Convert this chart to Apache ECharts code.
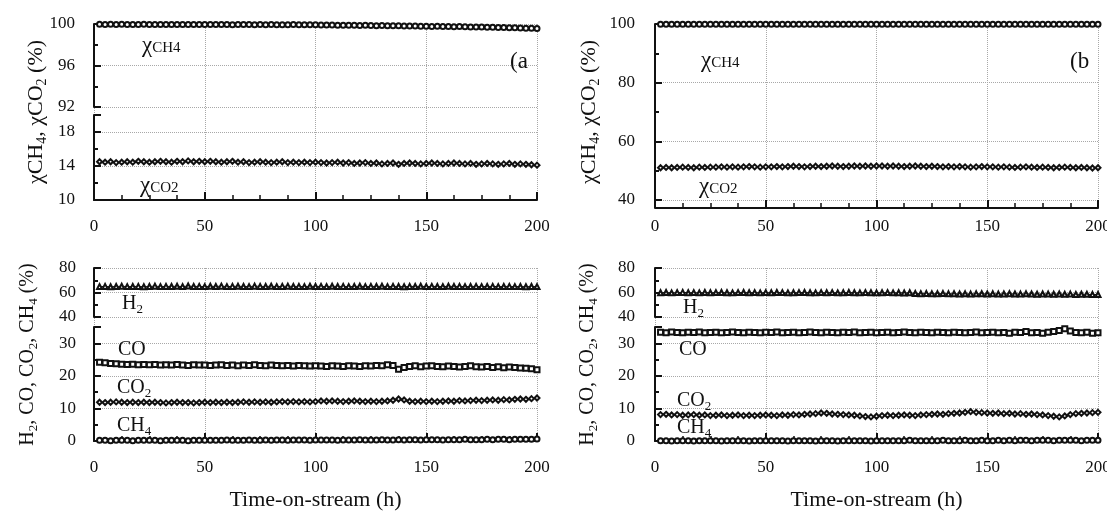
<!DOCTYPE html>
<html lang="en">
<head>
<meta charset="UTF-8">
<title>Time-on-stream</title>
<script src="https://cdn.jsdelivr.net/npm/echarts@6/dist/echarts.min.js"></script>
<style>
  html, body { margin: 0; padding: 0; background: #fff; }
  #chart { width: 1107px; height: 511px; }
</style>
</head>
<body>
<div id="chart"></div>
<script>
// time on stream (h)
const hours = [
  2.5, 5, 7.5, 10, 12.5, 15, 17.5, 20, 22.5, 25,
  27.5, 30, 32.5, 35, 37.5, 40, 42.5, 45, 47.5, 50,
  52.5, 55, 57.5, 60, 62.5, 65, 67.5, 70, 72.5, 75,
  77.5, 80, 82.5, 85, 87.5, 90, 92.5, 95, 97.5, 100,
  102.5, 105, 107.5, 110, 112.5, 115, 117.5, 120, 122.5, 125,
  127.5, 130, 132.5, 135, 137.5, 140, 142.5, 145, 147.5, 150,
  152.5, 155, 157.5, 160, 162.5, 165, 167.5, 170, 172.5, 175,
  177.5, 180, 182.5, 185, 187.5, 190, 192.5, 195, 197.5, 200
];
const xTicks = [0, 50, 100, 150, 200];

// (a) conversions
const aConvCH4 = [
  99.97,99.96,99.97,99.96,99.97,99.96,99.95,99.96,99.97,99.96,
  99.95,99.96,99.95,99.96,99.95,99.94,99.95,99.96,99.95,99.94,
  99.95,99.94,99.95,99.94,99.93,99.94,99.95,99.94,99.93,99.94,
  99.93,99.94,99.93,99.92,99.93,99.94,99.93,99.92,99.93,99.92,
  99.91,99.9,99.9,99.89,99.88,99.89,99.87,99.86,99.87,99.85,
  99.84,99.85,99.83,99.82,99.83,99.81,99.8,99.81,99.79,99.78,
  99.77,99.78,99.76,99.75,99.74,99.75,99.73,99.72,99.7,99.71,
  99.69,99.68,99.66,99.67,99.65,99.63,99.62,99.6,99.58,99.56
];
const aConvCO2 = [
  14.5,14.45,14.5,14.4,14.45,14.5,14.45,14.55,14.5,14.45,
  14.5,14.55,14.5,14.45,14.55,14.5,14.6,14.5,14.55,14.5,
  14.55,14.5,14.45,14.5,14.55,14.45,14.5,14.4,14.45,14.5,
  14.45,14.4,14.45,14.5,14.4,14.45,14.4,14.45,14.4,14.45,
  14.4,14.35,14.4,14.45,14.35,14.4,14.3,14.35,14.4,14.3,
  14.35,14.25,14.3,14.35,14.2,14.3,14.35,14.3,14.25,14.3,
  14.35,14.3,14.25,14.3,14.35,14.3,14.25,14.3,14.2,14.25,
  14.3,14.25,14.2,14.25,14.3,14.2,14.25,14.2,14.15,14.1
];
// (b) conversions
const bConvCH4 = [
  99.9,99.92,99.91,99.9,99.92,99.91,99.9,99.92,99.91,99.9,
  99.91,99.92,99.9,99.91,99.92,99.9,99.91,99.92,99.91,99.9,
  99.92,99.91,99.9,99.92,99.91,99.9,99.91,99.92,99.9,99.91,
  99.92,99.9,99.91,99.92,99.91,99.9,99.92,99.91,99.9,99.91,
  99.9,99.91,99.92,99.9,99.91,99.9,99.92,99.91,99.9,99.91,
  99.92,99.9,99.91,99.9,99.92,99.91,99.9,99.91,99.92,99.9,
  99.91,99.9,99.92,99.91,99.9,99.91,99.92,99.9,99.91,99.9,
  99.92,99.91,99.9,99.91,99.92,99.9,99.91,99.9,99.91,99.92
];
const bConvCO2 = [
  51.0,51.1,51.0,51.1,51.2,51.1,51.0,51.2,51.1,51.2,
  51.2,51.3,51.2,51.3,51.2,51.3,51.4,51.3,51.2,51.3,
  51.3,51.4,51.3,51.4,51.5,51.4,51.3,51.4,51.5,51.4,
  51.5,51.6,51.5,51.4,51.5,51.6,51.5,51.6,51.5,51.6,
  51.6,51.5,51.6,51.5,51.4,51.5,51.6,51.5,51.4,51.5,
  51.4,51.3,51.4,51.3,51.4,51.3,51.2,51.3,51.4,51.3,
  51.3,51.2,51.3,51.2,51.1,51.2,51.3,51.2,51.1,51.2,
  51.1,51.0,51.1,51.2,51.1,51.0,51.1,51.0,50.9,51.0
];

// (a) product composition
const aH2 = [
  64.8,65.0,64.7,64.9,65.1,64.8,64.9,65.0,64.7,64.9,
  65.2,64.8,65.0,64.9,65.1,64.8,65.3,64.9,65.0,64.8,
  65.1,64.9,65.2,64.8,65.0,65.1,64.9,64.8,65.2,65.0,
  64.9,65.1,64.8,65.0,65.2,64.9,65.0,64.8,65.1,64.9,
  65.0,64.8,65.1,64.9,65.0,64.8,64.9,65.1,64.8,65.0,
  64.9,65.1,64.8,65.0,64.9,64.7,65.0,64.9,65.1,64.8,
  65.0,64.9,64.8,65.1,64.9,65.0,64.8,64.9,65.0,64.8,
  64.9,65.0,64.8,64.9,65.0,64.8,64.9,64.7,64.9,64.8
];
const aCO = [
  24.2,24.0,23.8,23.7,23.6,23.5,23.6,23.4,23.5,23.4,
  23.5,23.3,23.4,23.3,23.5,23.3,23.2,23.4,23.3,23.3,
  23.2,23.3,23.4,23.2,23.3,23.1,23.3,23.2,23.4,23.2,
  23.1,23.3,23.2,23.1,23.2,23.0,23.2,23.1,23.0,23.1,
  23.0,22.9,23.1,23.0,22.9,23.1,23.0,22.9,23.1,23.0,
  23.2,23.1,23.4,23.2,22.0,22.6,22.9,23.1,22.8,23.0,
  23.1,22.9,22.8,23.0,22.9,22.7,22.9,23.1,22.8,22.7,
  22.9,22.6,22.8,22.5,22.7,22.6,22.4,22.3,22.2,21.9
];
const aCO2 = [
  11.9,11.8,11.9,12.0,11.9,11.8,11.9,11.8,11.9,11.8,
  11.9,11.8,11.7,11.8,11.9,11.8,11.8,11.7,11.8,11.9,
  11.8,11.9,11.8,11.9,11.8,11.9,12.0,11.9,12.0,11.9,
  12.0,11.9,12.0,12.1,12.0,12.1,12.0,12.1,12.0,12.1,
  12.3,12.2,12.3,12.2,12.1,12.2,12.3,12.2,12.1,12.2,
  12.1,12.2,12.3,12.5,12.9,12.6,12.2,12.1,12.2,12.1,
  12.2,12.1,12.2,12.3,12.2,12.4,12.3,12.4,12.5,12.4,
  12.5,12.6,12.5,12.7,12.6,12.8,12.9,12.8,13.0,13.2
];
const aCH4 = [
  0.2,0.2,0.1,0.2,0.2,0.2,0.1,0.2,0.2,0.2,
  0.2,0.1,0.2,0.2,0.2,0.2,0.1,0.2,0.2,0.2,
  0.2,0.2,0.2,0.3,0.2,0.2,0.2,0.3,0.2,0.2,
  0.3,0.2,0.3,0.3,0.2,0.3,0.3,0.3,0.2,0.3,
  0.3,0.3,0.3,0.2,0.3,0.3,0.3,0.4,0.3,0.3,
  0.3,0.4,0.3,0.3,0.4,0.3,0.4,0.4,0.3,0.4,
  0.4,0.4,0.3,0.4,0.4,0.4,0.5,0.4,0.4,0.4,
  0.5,0.4,0.5,0.5,0.4,0.5,0.5,0.5,0.5,0.6
];
// (b) product composition
const bH2 = [
  59.8,60.0,59.7,59.9,60.1,59.8,59.9,59.7,60.0,59.8,
  59.9,60.0,59.8,59.7,59.9,60.0,59.8,59.9,59.7,59.9,
  59.8,60.0,59.9,59.7,59.8,59.9,60.0,59.8,59.7,59.9,
  59.8,59.9,59.7,59.8,60.0,59.8,59.7,59.9,59.8,59.7,
  59.8,59.9,59.7,59.8,59.6,59.8,59.2,59.0,59.1,58.9,
  59.0,59.1,58.9,59.0,58.8,58.9,58.7,58.9,59.0,58.8,
  58.9,58.7,58.8,59.0,58.8,58.7,58.9,58.8,58.6,58.8,
  58.7,58.6,58.8,58.5,58.7,58.4,58.6,58.5,58.3,58.4
];
const bCO = [
  33.4,33.2,33.5,33.3,33.2,33.4,33.3,33.5,33.2,33.3,
  33.4,33.2,33.3,33.5,33.3,33.2,33.4,33.3,33.2,33.4,
  33.3,33.5,33.2,33.3,33.4,33.2,33.3,33.5,33.3,33.2,
  33.4,33.3,33.2,33.4,33.3,33.5,33.2,33.3,33.4,33.2,
  33.3,33.4,33.2,33.3,33.5,33.3,33.2,33.4,33.3,33.2,
  33.4,33.3,33.2,33.4,33.3,33.2,33.3,33.5,33.2,33.3,
  33.4,33.2,33.3,33.1,33.4,33.3,33.6,33.2,33.3,33.1,
  33.4,33.6,33.9,34.5,33.8,33.3,33.2,33.4,33.1,33.2
];
const bCO2 = [
  8.1,8.2,8.0,8.1,7.9,8.0,8.1,7.9,8.0,7.8,
  7.9,8.0,7.8,7.9,8.0,7.8,7.9,7.8,7.9,8.0,
  7.9,7.8,8.0,7.9,8.1,8.0,8.2,8.3,8.4,8.6,
  8.5,8.3,8.2,8.1,8.0,7.9,7.7,7.5,7.4,7.6,
  7.8,7.9,7.8,7.9,8.0,7.9,7.8,8.0,8.1,8.2,
  8.3,8.2,8.4,8.5,8.6,8.8,9.0,8.8,8.7,8.6,
  8.5,8.6,8.4,8.5,8.3,8.4,8.2,8.3,8.1,8.0,
  7.8,7.6,7.4,7.7,8.1,8.4,8.5,8.6,8.7,8.8
];
const bCH4 = [
  0.1,0.1,0.0,0.1,0.1,0.1,0.0,0.1,0.1,0.1,
  0.1,0.0,0.1,0.1,0.1,0.1,0.0,0.1,0.1,0.1,
  0.1,0.1,0.1,0.0,0.1,0.1,0.1,0.1,0.0,0.1,
  0.1,0.1,0.0,0.1,0.1,0.1,0.1,0.1,0.0,0.1,
  0.1,0.1,0.1,0.1,0.1,0.2,0.1,0.1,0.1,0.1,
  0.1,0.2,0.1,0.1,0.1,0.2,0.1,0.1,0.2,0.1,
  0.1,0.2,0.1,0.2,0.1,0.2,0.2,0.1,0.2,0.2,
  0.2,0.1,0.2,0.2,0.2,0.2,0.1,0.2,0.2,0.2
];

const FONT = 'Liberation Serif';
const INK = '#111';
const GRIDLINE = { type: 'dotted', color: '#a8a8a8', width: 1 };

let chart = echarts.init(document.getElementById('chart'), null, { renderer: 'canvas' });

// grid boxes: [left, top, width, height]
const boxes = [
  [94, 24, 443, 176],   // 0 (a) top frame
  [94, 24, 443, 83],    // 1 (a) top upper part 92-100
  [94, 115, 443, 85],   // 2 (a) top lower part 10-20
  [655, 24, 443, 176],  // 3 (b) top
  [94, 268, 443, 173],  // 4 (a) bottom frame
  [94, 268, 443, 49],   // 5 (a) bottom upper part 40-80
  [94, 327, 443, 114],  // 6 (a) bottom lower part 0-35
  [655, 268, 443, 173], // 7 (b) bottom frame
  [655, 268, 443, 49],  // 8 (b) bottom upper
  [655, 327, 443, 114]  // 9 (b) bottom lower
];
const grids = boxes.map(b => ({ left: b[0], top: b[1], width: b[2], height: b[3], outerBoundsMode: 'none' }));

const xTitle = 'Time-on-stream (h)';
function frameX(gi, offset, margin, withName) {
  return {
    type: 'value', gridIndex: gi, min: xTicks[0], max: xTicks[xTicks.length - 1], interval: 50,
    offset: offset,
    axisLine: { show: true, lineStyle: { color: INK, width: 2 } },
    axisTick: { show: true, inside: true, length: 8, lineStyle: { color: INK, width: 2 } },
    minorTick: { show: true, splitNumber: 4, length: 5, lineStyle: { color: INK, width: 1.5 } },
    axisLabel: { fontFamily: FONT, fontSize: 17, color: INK, margin: margin },
    splitLine: { show: true, lineStyle: GRIDLINE },
    name: withName ? xTitle : '', nameLocation: 'middle', nameGap: 41,
    nameTextStyle: { fontFamily: FONT, fontSize: 22, color: INK }
  };
}
function hiddenX(gi) {
  return { type: 'value', gridIndex: gi, min: 0, max: 200, show: false };
}
function dataY(gi, min, max, interval, offset, opts) {
  opts = opts || {};
  return {
    type: 'value', gridIndex: gi, min: min, max: max, interval: interval, offset: offset,
    axisLine: { show: true, lineStyle: { color: INK, width: 2 } },
    axisTick: { show: true, inside: true, length: 7, lineStyle: { color: INK, width: 2 } },
    minorTick: { show: true, splitNumber: 2, length: 4, lineStyle: { color: INK, width: 2 } },
    axisLabel: { fontFamily: FONT, fontSize: 17, color: INK, margin: 5, showMaxLabel: opts.hideMax ? false : true },
    splitLine: { show: true, showMaxLine: opts.hideMax ? false : true, lineStyle: GRIDLINE },
    name: opts.name || '', nameLocation: 'middle', nameGap: opts.gap || 30,
    nameTextStyle: opts.nameStyle || {}
  };
}
function nameY(gi, offset, name, gap, style) {
  return {
    type: 'value', gridIndex: gi, min: 0, max: 1, offset: offset,
    axisLine: { show: false }, axisTick: { show: false }, axisLabel: { show: false }, splitLine: { show: false },
    name: name, nameLocation: 'middle', nameGap: gap, nameTextStyle: style
  };
}
function richName(size, sub) {
  return {
    color: INK,
    rich: {
      n: { fontFamily: FONT, fontSize: size, color: INK, lineHeight: size + 4, verticalAlign: 'middle' },
      s: { fontFamily: FONT, fontSize: sub, color: INK, lineHeight: sub, verticalAlign: 'bottom' }
    }
  };
}
const convName = '{n|χ}{n|CH}{s|4}{n|, χCO}{s|2}{n| (%)}';
const compName = '{n|H}{s|2}{n|, CO, CO}{s|2}{n|, CH}{s|4}{n| (%)}';

const xAxes = [
  frameX(0, 8, 10, false), hiddenX(1), hiddenX(2), frameX(3, 8, 10, false),
  frameX(4, 7, 11, true), hiddenX(5), hiddenX(6),
  frameX(7, 7, 11, true), hiddenX(8), hiddenX(9)
];
const yAxes = [
  nameY(0, 14, convName, 31, richName(22, 14)),
  dataY(1, 92, 100, 4, 14),
  dataY(2, 10, 20, 4, 14, { hideMax: true }),
  dataY(3, 40, 100, 20, 15, { name: convName, gap: 38, nameStyle: richName(22, 14) }),
  nameY(4, 13, compName, 41, richName(20, 13)),
  dataY(5, 40, 80, 20, 13),
  dataY(6, 0, 35, 10, 13, { hideMax: true }),
  nameY(7, 15, compName, 40, richName(20, 13)),
  dataY(8, 40, 80, 20, 15),
  dataY(9, 0, 35, 10, 15, { hideMax: true })
];

function line(axis, values, symbol) {
  return {
    type: 'line', xAxisIndex: axis, yAxisIndex: axis,
    data: hours.map((h, i) => [h, values[i]]),
    symbol: symbol, symbolSize: 5,
    lineStyle: { color: INK, width: 1 },
    itemStyle: { color: INK, borderWidth: 1 },
    emphasis: { disabled: true }, silent: true, z: 3
  };
}
const series = [
  line(1, aConvCH4, 'emptyCircle'),
  line(2, aConvCO2, 'emptyDiamond'),
  line(3, bConvCH4, 'emptyCircle'),
  line(3, bConvCO2, 'emptyDiamond'),
  line(5, aH2, 'emptyTriangle'),
  line(6, aCO, 'emptyRect'),
  line(6, aCO2, 'emptyDiamond'),
  line(6, aCH4, 'emptyCircle'),
  line(8, bH2, 'emptyTriangle'),
  line(9, bCO, 'emptyRect'),
  line(9, bCO2, 'emptyDiamond'),
  line(9, bCH4, 'emptyCircle')
];

// in-plot text labels
function note(x, y, text, rich) {
  return {
    type: 'text', x: x, y: y, z: 10,
    style: { text: text, rich: rich, fill: INK, font: '20px "' + FONT + '"', verticalAlign: 'middle', align: 'left' }
  };
}
const chiRich = {
  c: { fontFamily: FONT, fontSize: 23, fill: INK, lineHeight: 24, verticalAlign: 'middle' },
  t: { fontFamily: FONT, fontSize: 15, fill: INK, lineHeight: 15, verticalAlign: 'middle', padding: [4, 0, 0, 0] }
};
const gasRich = {
  g: { fontFamily: FONT, fontSize: 20, fill: INK, lineHeight: 24, verticalAlign: 'middle' },
  s: { fontFamily: FONT, fontSize: 13, fill: INK, lineHeight: 13, verticalAlign: 'bottom' }
};
const tagRich = { p: { fontFamily: FONT, fontSize: 23, fill: INK } };
const graphics = [
  note(142, 46, '{c|χ}{t|CH4}', chiRich),
  note(140, 186, '{c|χ}{t|CO2}', chiRich),
  note(510, 62, '{p|(a}', tagRich),
  note(701, 61, '{c|χ}{t|CH4}', chiRich),
  note(699, 187, '{c|χ}{t|CO2}', chiRich),
  note(1070, 62, '{p|(b}', tagRich),
  note(122, 304, '{g|H}{s|2}', gasRich),
  note(118, 350, '{g|CO}', gasRich),
  note(117, 388, '{g|CO}{s|2}', gasRich),
  note(117, 426, '{g|CH}{s|4}', gasRich),
  note(683, 308, '{g|H}{s|2}', gasRich),
  note(679, 350, '{g|CO}', gasRich),
  note(677, 401, '{g|CO}{s|2}', gasRich),
  note(677, 428, '{g|CH}{s|4}', gasRich)
];

let option = {
  backgroundColor: '#ffffff',
  animation: false,
  grid: grids,
  xAxis: xAxes,
  yAxis: yAxes,
  series: series,
  graphic: graphics
};
chart.setOption(option);
</script>
</body>
</html>
